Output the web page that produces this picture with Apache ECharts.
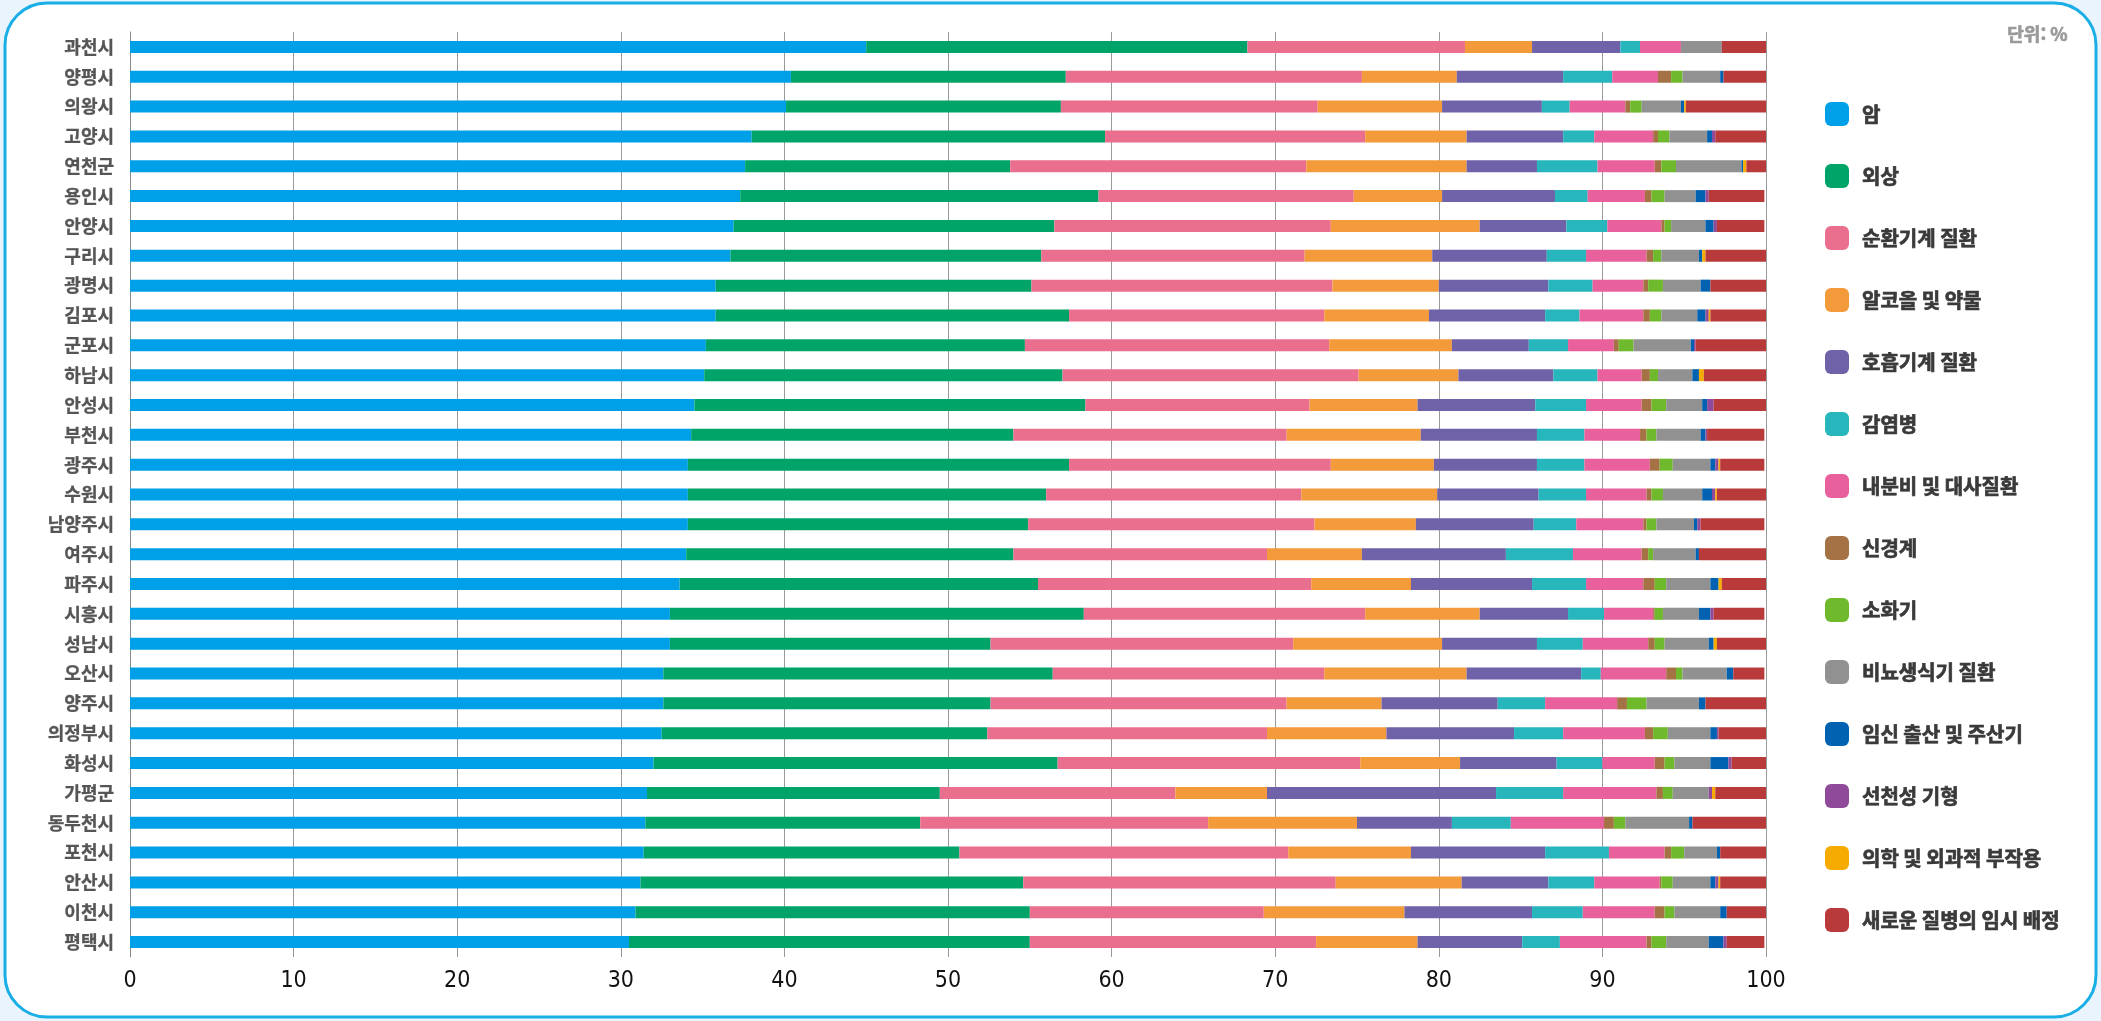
<!DOCTYPE html>
<html lang="ko">
<head>
<meta charset="utf-8">
<title>시군별 사망원인 구성비</title>
<script src="https://cdn.jsdelivr.net/npm/echarts@6/dist/echarts.min.js"></script>
<style>
  html, body { margin: 0; padding: 0; background: #eaf4fc; }
  #chart { width: 2101px; height: 1021px; }
</style>
</head>
<body>
<div id="chart"></div>
<script>
// 시군 (위에서 아래 순서)
const cities = ['과천시','양평시','의왕시','고양시','연천군','용인시','안양시','구리시','광명시','김포시','군포시','하남시','안성시','부천시','광주시','수원시','남양주시','여주시','파주시','시흥시','성남시','오산시','양주시','의정부시','화성시','가평군','동두천시','포천시','안산시','이천시','평택시'];

// 사망원인 항목
const causes = ['암','외상','순환기계 질환','알코올 및 약물','호흡기계 질환','감염병','내분비 및 대사질환','신경계','소화기','비뇨생식기 질환','임신 출산 및 주산기','선천성 기형','의학 및 외과적 부작용','새로운 질병의 임시 배정'];

const causeColors = ['#00a0e9','#00a469','#ea6f8e','#f39a3a','#6f62a9','#26b6bc','#e8609c','#a57245','#6fb92c','#919191','#0062b1','#8f4a9a','#f6ab00','#b93a3a'];

// 항목별 구성비 (%), cities 순서
const cancer      = [45.0,40.4,40.1,38.0,37.6,37.3,36.9,36.7,35.8,35.8,35.2,35.1,34.5,34.3,34.1,34.1,34.1,34.0,33.6,33.0,33.0,32.6,32.6,32.5,32.0,31.6,31.5,31.4,31.2,30.9,30.5];
const injury      = [23.3,16.8,16.8,21.6,16.2,21.9,19.6,19.0,19.3,21.6,19.5,21.9,23.9,19.7,23.3,21.9,20.8,20.0,21.9,25.3,19.6,23.8,20.0,19.9,24.7,17.9,16.8,19.3,23.4,24.1,24.5];
const circulatory = [13.3,18.1,15.7,15.9,18.1,15.6,16.9,16.1,18.4,15.6,18.6,18.1,13.7,16.7,16.0,15.6,17.5,15.5,16.7,17.2,18.5,16.6,18.1,17.1,18.5,14.4,17.6,20.1,19.1,14.3,17.5];
const alcohol     = [4.1,5.8,7.6,6.2,9.8,5.4,9.1,7.8,6.5,6.4,7.5,6.1,6.6,8.2,6.3,8.3,6.2,5.8,6.1,7.0,9.1,8.7,5.8,7.3,6.1,5.6,9.1,7.5,7.7,8.6,6.2];
const respiratory = [5.4,6.5,6.1,5.9,4.3,6.9,5.3,7.0,6.7,7.1,4.7,5.8,7.2,7.1,6.3,6.2,7.2,8.8,7.4,5.4,5.8,7.0,7.1,7.8,5.9,14.0,5.8,8.2,5.3,7.8,6.4];
const infection   = [1.2,3.0,1.7,1.9,3.7,2.0,2.5,2.4,2.7,2.1,2.4,2.7,3.1,2.9,2.9,2.9,2.6,4.1,3.3,2.2,2.8,1.2,2.9,3.0,2.8,4.1,3.6,3.9,2.8,3.1,2.3];
const endocrine   = [2.5,2.8,3.4,3.6,3.5,3.5,3.3,3.7,3.1,3.9,2.8,2.7,3.4,3.4,4.0,3.7,4.1,4.2,3.5,3.0,4.0,4.0,4.4,5.0,3.2,5.7,5.7,3.4,4.0,4.4,5.3];
const nervous     = [0.0,0.8,0.3,0.3,0.4,0.4,0.2,0.4,0.3,0.4,0.3,0.5,0.6,0.4,0.6,0.3,0.2,0.4,0.7,0.1,0.4,0.6,0.6,0.5,0.6,0.4,0.6,0.4,0.1,0.6,0.3];
const digestive   = [0.0,0.7,0.7,0.7,0.9,0.8,0.4,0.5,0.9,0.7,0.9,0.5,0.9,0.6,0.8,0.7,0.6,0.3,0.7,0.5,0.6,0.4,1.2,0.9,0.6,0.6,0.7,0.8,0.7,0.6,0.9];
const urogenital  = [2.5,2.3,2.4,2.3,4.0,1.9,2.1,2.3,2.3,2.2,3.5,2.1,2.2,2.7,2.3,2.4,2.3,2.6,2.7,2.2,2.7,2.7,3.2,2.6,2.2,2.2,3.9,2.0,2.3,2.8,2.6];
const perinatal   = [0.0,0.2,0.2,0.3,0.1,0.6,0.5,0.2,0.6,0.5,0.2,0.4,0.3,0.3,0.3,0.6,0.2,0.2,0.5,0.7,0.3,0.4,0.4,0.4,1.1,0.0,0.2,0.2,0.3,0.4,0.9];
const congenital  = [0.0,0.0,0.0,0.2,0.0,0.2,0.2,0.0,0.0,0.2,0.1,0.0,0.4,0.1,0.2,0.2,0.2,0.0,0.0,0.2,0.0,0.0,0.0,0.1,0.2,0.2,0.0,0.0,0.2,0.0,0.2];
const medical     = [0.0,0.0,0.1,0.0,0.2,0.0,0.0,0.2,0.0,0.1,0.0,0.3,0.0,0.0,0.1,0.1,0.0,0.0,0.2,0.0,0.2,0.0,0.0,0.0,0.0,0.2,0.0,0.0,0.1,0.0,0.0];
const provisional = [2.7,2.6,4.9,3.2,1.2,3.4,2.9,3.8,3.5,3.4,4.3,3.8,3.2,3.5,2.7,3.0,3.9,4.1,2.7,3.1,3.1,1.9,3.8,2.9,2.3,3.2,4.5,2.9,2.8,2.5,2.3];

// x축 눈금
const xTicks = [0,10,20,30,40,50,60,70,80,90,100];

const seriesValues = [cancer, injury, circulatory, alcohol, respiratory, infection, endocrine, nervous, digestive, urogenital, perinatal, congenital, medical, provisional];

const chart = echarts.init(document.getElementById('chart'), null, { renderer: 'canvas' });

const option = {
  animation: false,
  backgroundColor: 'transparent',
  graphic: [
    {
      type: 'rect',
      z: -10,
      shape: { x: 5, y: 3, width: 2091, height: 1014, r: 42 },
      style: { fill: '#ffffff', stroke: '#1aaee6', lineWidth: 3 }
    },
    {
      type: 'text',
      right: 33,
      top: 25,
      style: {
        text: '단위: %',
        fill: '#9a9a9a',
        stroke: '#9a9a9a',
        lineWidth: 0.7,
        fontFamily: '"Noto Sans CJK KR", sans-serif',
        fontSize: 18,
        fontWeight: 'bold'
      }
    }
  ],
  grid: { left: 130, right: 335, top: 32, height: 925, containLabel: false },
  legend: {
    orient: 'vertical',
    left: 1820,
    top: 97,
    itemWidth: 24,
    itemHeight: 24,
    itemGap: 38,
    icon: 'roundRect',
    data: causes,
    textStyle: {
      fontFamily: '"Noto Sans CJK KR", sans-serif',
      fontSize: 20,
      fontWeight: 'bold',
      color: '#3a3a3a',
      textBorderColor: '#3a3a3a',
      textBorderWidth: 0.7,
      padding: [0, 0, 0, 8]
    }
  },
  xAxis: {
    type: 'value',
    min: xTicks[0],
    max: xTicks[xTicks.length - 1],
    interval: 10,
    axisLine: { show: false },
    axisTick: { show: false },
    splitLine: { show: true, lineStyle: { color: '#9a9a9a', width: 1 } },
    axisLabel: {
      margin: 13,
      fontSize: 23,
      color: '#111111',
      fontFamily: '"Liberation Sans Narrow", "DejaVu Sans Condensed", "Liberation Sans", sans-serif'
    }
  },
  yAxis: {
    type: 'category',
    data: cities,
    inverse: true,
    axisLine: { show: true, lineStyle: { color: '#8a8a8a', width: 1 } },
    axisTick: { show: false },
    axisLabel: {
      margin: 16,
      fontSize: 18,
      color: '#555555',
      fontWeight: 'bold',
      textBorderColor: '#555555',
      textBorderWidth: 0.3,
      fontFamily: '"Noto Sans CJK KR", sans-serif'
    }
  },
  series: causes.map((name, i) => ({
    name: name,
    type: 'bar',
    stack: 'total',
    barWidth: 12,
    itemStyle: { color: causeColors[i] },
    emphasis: { disabled: true },
    data: seriesValues[i]
  }))
};

chart.setOption(option);
</script>
</body>
</html>
